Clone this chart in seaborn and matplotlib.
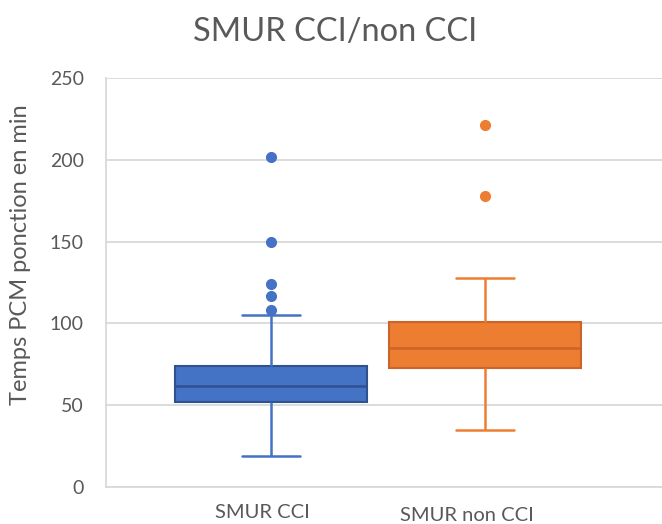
import pandas as pd
import matplotlib.pyplot as plt
import matplotlib.transforms as mtransforms
import seaborn as sns

# times (minutes)
smur_cci = [19, 30, 38, 44, 48, 50, 52, 54, 56, 58, 60, 61, 62,
            64, 66, 68, 70, 72, 74, 105, 108, 117, 124, 150, 202]
smur_non_cci = [35, 50, 65, 73, 78, 82, 85, 90, 96, 101, 128, 178, 221]

groups = ["SMUR CCI", "SMUR non CCI"]
fills = ["#4472C4", "#ED7D31"]
edges = ["#2F528F", "#C9652A"]

title = "SMUR CCI/non CCI"
ylabel = "Temps PCM ponction en min"
yticks = [0, 50, 100, 150, 200, 250]

df = pd.concat([
    pd.DataFrame({"groupe": groups[0], "temps": smur_cci}),
    pd.DataFrame({"groupe": groups[1], "temps": smur_non_cci}),
])

sns.set_style("white")
plt.rcParams['font.family'] = ['Lato', 'DejaVu Sans']
txt = "#595959"

fig = plt.figure(figsize=(6.62, 5.24), dpi=100)
ax = fig.add_axes([0.160, 0.0706, 0.84, 0.7805])

sns.boxplot(data=df, x="groupe", y="temps", hue="groupe", order=groups,
            palette=fills, width=0.9, legend=False, ax=ax,
            capwidths=0.27, zorder=3,
            flierprops=dict(marker="o", markersize=7))

for cont, fc, ec in zip(ax.containers, fills, edges):
    for b in cont.boxes:
        b.set_facecolor(fc)
        b.set_edgecolor(ec)
        b.set_linewidth(1.5)
    for m in cont.medians:
        m.set_color(ec)
        m.set_linewidth(1.8)
    for ln in list(cont.whiskers) + list(cont.caps):
        ln.set_color(fc)
        ln.set_linewidth(1.8)
    for f in cont.fliers:
        f.set_markerfacecolor(fc)
        f.set_markeredgecolor(fc)

ax.set_xlim(-0.771, 1.827)
ax.set_ylim(0, 250)
ax.set_yticks(yticks)
ax.yaxis.grid(True, color="#D9D9D9", linewidth=1.3, zorder=0)
ax.set_axisbelow(True)
for s in ["top", "right"]:
    ax.spines[s].set_visible(False)
for s in ["left", "bottom"]:
    ax.spines[s].set_color("#D9D9D9")
    ax.spines[s].set_linewidth(1.3)
ax.tick_params(length=0, labelsize=14, colors=txt, pad=16)
ax.tick_params(axis="x", labelsize=14.5, pad=12)

# the category labels sit a little left of the boxes
for lab, dx, dy in zip(ax.get_xticklabels(), [-9, -18], [0, -3]):
    lab.set_transform(lab.get_transform() +
                      mtransforms.ScaledTranslation(dx / 100, dy / 100, fig.dpi_scale_trans))

ax.set_xlabel("")
ax.set_ylabel(ylabel, fontsize=17, color=txt)
ax.yaxis.set_label_coords(-0.134, 0.567)
fig.suptitle(title, fontsize=23.5, color=txt, x=0.506, y=0.968)

fig.savefig("out.png", dpi=100)
